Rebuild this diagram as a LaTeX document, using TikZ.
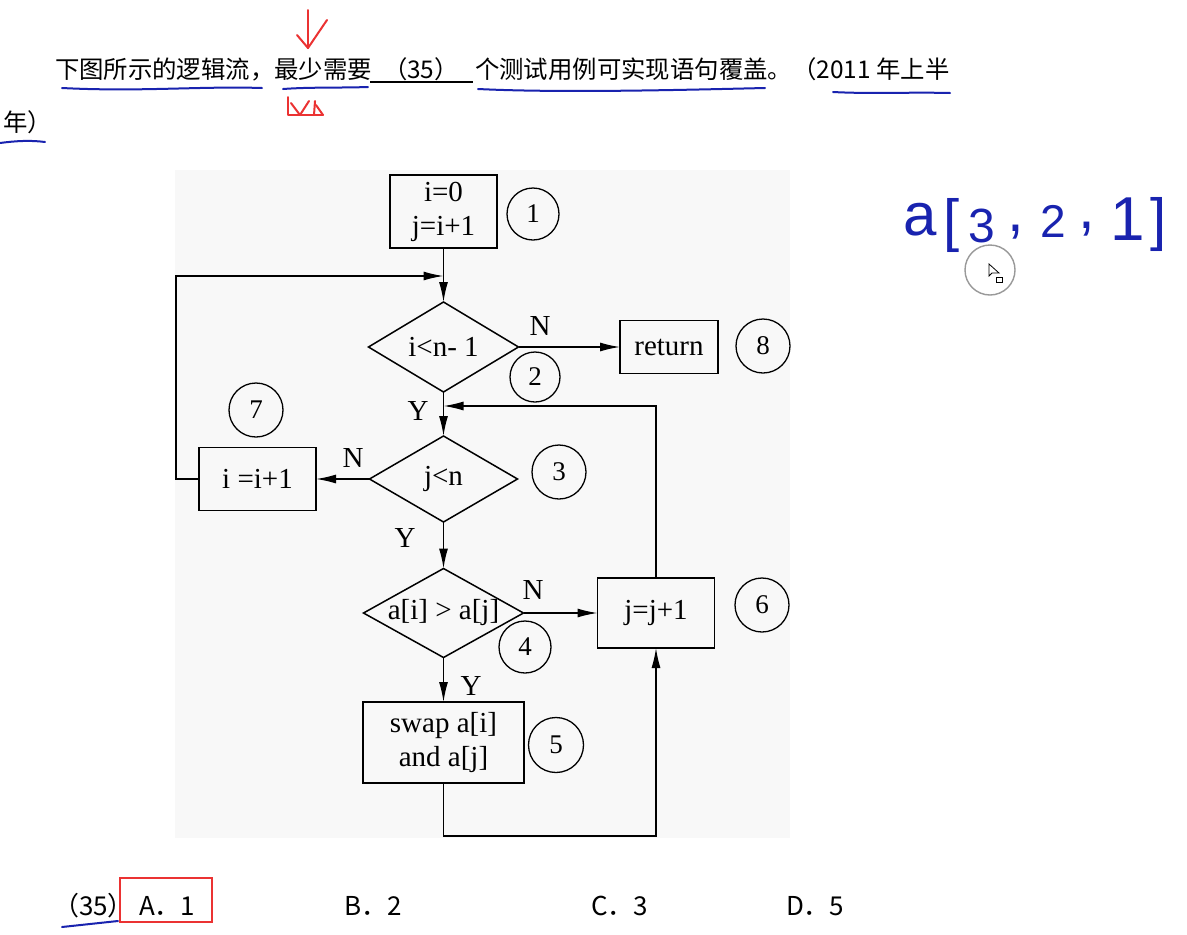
\documentclass[tikz,border=0pt]{standalone}
\usepackage{fontspec}
\setmainfont{Liberation Serif}
\newfontfamily\cjk{Noto Sans CJK SC}
\newfontfamily\handfont{Liberation Sans}
\usetikzlibrary{shapes.geometric,arrows.meta}
\definecolor{handblue}{RGB}{25,35,175}
\definecolor{rectred}{RGB}{235,50,50}
\definecolor{bggray}{RGB}{248,248,248}
\newcommand\fcfont{\fontsize{29}{34}\selectfont}
\newcommand\numfont{\fontsize{27}{30}\selectfont}
\newcommand\cnfont{\cjk\fontsize{24.4}{28}\selectfont}
\newcommand\ansfont{\cjk\fontsize{26}{28}\selectfont}
\begin{document}
\begin{tikzpicture}[x=1pt,y=-1pt,
  every node/.style={inner sep=0pt,outer sep=0pt},
  boxnode/.style={draw=black,line width=1.6pt,rectangle,font=\fcfont,align=center},
  dia/.style={draw=black,line width=1.5pt,diamond,minimum width=150pt,minimum height=90pt},
  diatext/.style={font=\fcfont},
  num/.style={draw=black,line width=1.3pt,circle,minimum size=52pt,font=\numfont},
  conn/.style={line width=1.4pt},
  arr/.style={conn,-{Latex[length=20pt,width=9pt]}},
  lbl/.style={font=\fcfont},
  cn/.style={font=\cnfont,anchor=base west},
  ans/.style={font=\ansfont,anchor=base west},
  hand/.style={draw=handblue,line width=2pt,line cap=round,line join=round},
  redpen/.style={draw=rectred,line width=2pt,line cap=round,line join=round},
  handtxt/.style={text=handblue,font=\handfont\fontsize{46}{46}\selectfont}
]
\useasboundingbox[fill=white] (0,0) rectangle (1187,935);
\fill[bggray] (175,170) rectangle (790,838);

% ---- question text ----
\node[cn] (q1) at (55,78) {下图所示的逻辑流，最少需要};
\node[cn] (q2) at (383,78) {（35）};
\coordinate (u1) at (370,82);
\coordinate (u2) at (473,82);
\draw[line width=1.5pt] (u1) -- (u2);
\node[cn] (q3) at (475,78) {个测试用例可实现语句覆盖。（2011 年上半};
\node[cn] (q4) at (3,131) {年）};

% handwritten underlines
\draw[hand] (62,88) .. controls (140,92) and (200,86) .. (262,88);
\draw[hand] (283,89) .. controls (310,87) and (340,88) .. (368,87);
\draw[hand] (478,89) .. controls (560,93) and (680,90) .. (765,88);
\draw[hand] (833,92) .. controls (870,94) and (910,92) .. (950,93);
\draw[hand] (0,143) .. controls (15,141) and (30,140) .. (45,142);

% red annotations
\draw[redpen] (308,10) -- (308,48);
\draw[redpen] (297,35) -- (308,48) -- (327,20);
\draw[redpen] (288,97) -- (288,115) -- (323,115);
\draw[redpen] (291,103) -- (300,115) -- (309,101);
\draw[redpen] (315,101) -- (314,115);
\draw[redpen] (316,105) -- (323,115);

% ---- flowchart ----
\node[boxnode,minimum width=107pt,minimum height=73pt] (b1) at (443.5,211.5) {i=0\\j=i+1};
\node[num] (c1) at (533,214) {1};

\node[dia] (d2) at (443.5,347) {};
\node[diatext] (t2) at (443.5,347) {i<n- 1};
\node[num,minimum size=50pt] (c2) at (535,377) {2};
\node[boxnode,minimum width=98pt,minimum height=53pt] (ret) at (669,347) {return};
\node[num,minimum size=54pt] (c8) at (763,346) {8};

\node[num,minimum size=54pt] (c7) at (256,410) {7};
\node[boxnode,minimum width=117pt,minimum height=63pt] (b7) at (257.5,479) {i =i+1};
\node[dia,minimum width=148pt,minimum height=86pt] (d3) at (443.5,479) {};
\node[diatext] (t3) at (443.5,479) {j<n};
\node[num,minimum size=54pt] (c3) at (559,472) {3};

\node[dia,minimum width=160pt,minimum height=89pt] (d4) at (443.5,613) {};
\node[diatext] (t4) at (443.5,613) {a[i] > a[j]};
\node[num] (c4) at (525,647) {4};
\node[boxnode,minimum width=117pt,minimum height=70pt] (b6) at (656,613) {j=j+1};
\node[num,minimum size=54pt] (c6) at (762,605) {6};

\node[boxnode,minimum width=161pt,minimum height=81pt] (b5) at (443.5,742.5) {swap a[i]\\and a[j]};
\node[num,minimum size=55pt] (c5) at (556,745) {5};

% labels
\node[lbl] (n2) at (540,326) {N};
\node[lbl] (y2) at (418,411) {Y};
\node[lbl] (n3) at (353,458) {N};
\node[lbl] (y3) at (405,538) {Y};
\node[lbl] (n4) at (533,590) {N};
\node[lbl] (y4) at (471,686) {Y};

% connectors
\coordinate (L1) at (176,479);
\coordinate (L2) at (176,276);
\coordinate (M1) at (443.5,276);
\coordinate (M2) at (443.5,406);
\coordinate (B1) at (443.5,836);
\coordinate (B2) at (656,836);

\draw[arr] (b1.south) -- (d2.north);
\draw[arr] (b7.west) -- (L1) -- (L2) -- (M1);
\draw[arr] (d2.east) -- (ret.west);
\draw[arr] (d2.south) -- (d3.north);
\draw[arr] (b6.north) |- (M2);
\draw[arr] (d3.west) -- (b7.east);
\draw[arr] (d3.south) -- (d4.north);
\draw[arr] (d4.east) -- (b6.west);
\draw[arr] (d4.south) -- (b5.north);
\draw[arr] (b5.south) -- (B1) -- (B2) -- (b6.south);

% ---- handwritten note ----
\node[handtxt,font=\handfont\fontsize{60}{60}\selectfont] (h1) at (920,220) {a};
\node[handtxt,font=\handfont\fontsize{58}{58}\selectfont] (h2) at (952,225) {[};
\node[handtxt,font=\handfont\fontsize{48}{48}\selectfont] (h3) at (982,226) {3};
\node[handtxt,font=\handfont\fontsize{60}{60}\selectfont] (h4) at (1016,232) {,};
\node[handtxt,font=\handfont\fontsize{46}{46}\selectfont] (h5) at (1053,221) {2};
\node[handtxt,font=\handfont\fontsize{60}{60}\selectfont] (h6) at (1087,229) {,};
\node[handtxt,font=\handfont\fontsize{62}{62}\selectfont] (h7) at (1128,219) {1};
\node[handtxt,font=\handfont\fontsize{58}{58}\selectfont] (h8) at (1159,224) {]};

% cursor
\node[draw=gray!80,line width=1.4pt,circle,minimum size=50pt] (cur) at (990,270) {};
\draw[line width=0.8pt] (989,264) -- (989,276) -- (992,273) -- (999,273) -- cycle;
\draw[line width=0.8pt] (996,277) rectangle (1002,282);

% ---- answers ----
\node[ans] (a0) at (53,915) {（35）};
\draw[draw=rectred,line width=2pt] (120,878) rectangle (212,922);
\node[ans] (aA) at (139,915) {A．1};
\node[ans] (aB) at (344,915) {B．2};
\node[ans] (aC) at (591,915) {C．3};
\node[ans] (aD) at (786,915) {D．5};
\draw[hand] (62,927) -- (118,921);
\end{tikzpicture}
\end{document}
